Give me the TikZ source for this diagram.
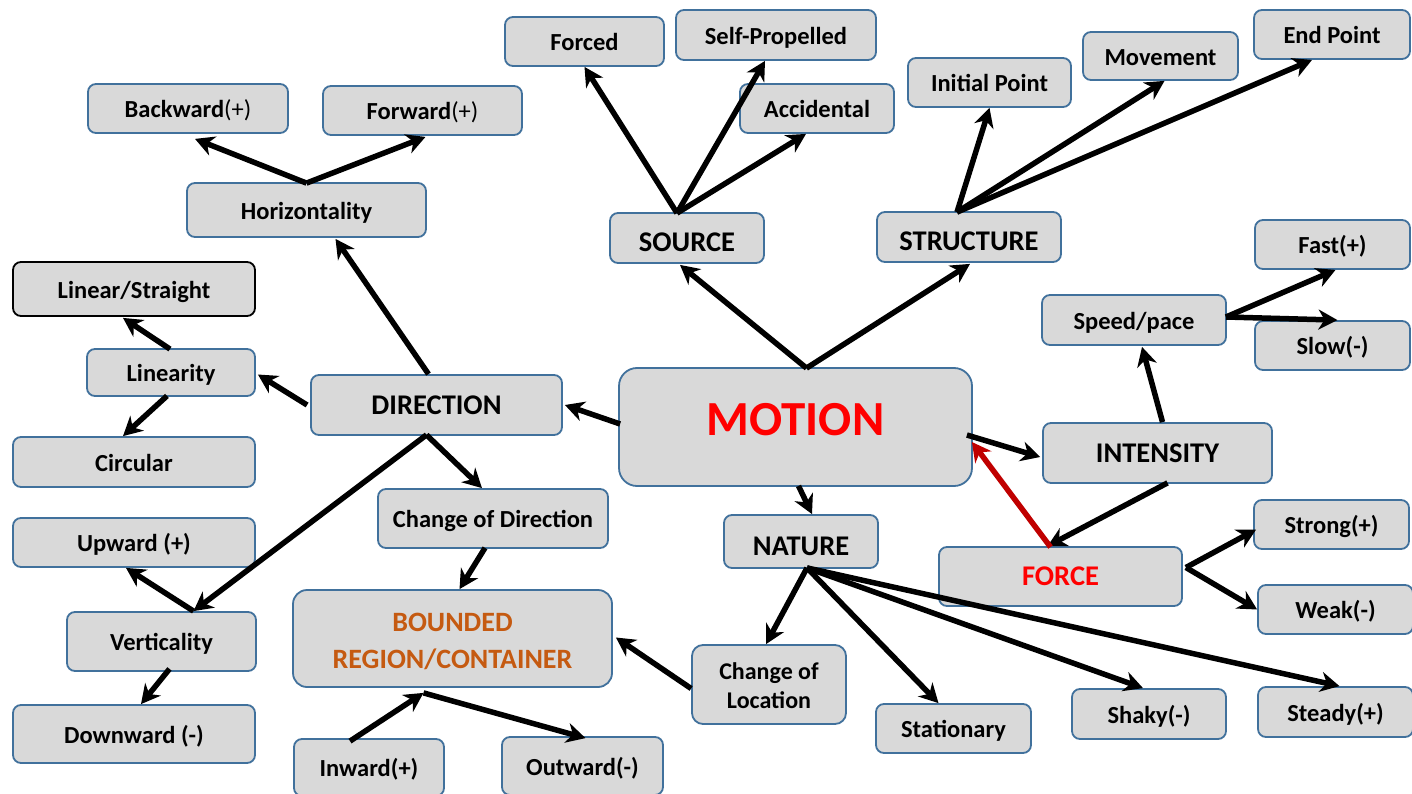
\documentclass[tikz,border=0pt]{standalone}
\usepackage{fontspec}
\setmainfont{Carlito}
\usetikzlibrary{arrows.meta,calc}
\definecolor{boxfill}{HTML}{D9D9D9}
\definecolor{boxline}{HTML}{41719C}
\definecolor{orangetxt}{HTML}{C55A11}
\definecolor{darkred}{HTML}{C00000}
\tikzset{
  boxbase/.style={draw=boxline, line width=1.8pt, fill=boxfill, rounded corners=8pt,
    inner sep=0pt, align=center, text=black},
  box/.style={boxbase, font=\fontsize{24.5}{30}\selectfont\bfseries,
    text height=24pt, text depth=5.2pt},
  multibox/.style={boxbase, font=\fontsize{24}{29}\selectfont\bfseries},
  head/.style={boxbase, font=\fontsize{28.5}{34}\selectfont\bfseries,
    text height=25pt, text depth=6.6pt},
  headlow/.style={head, text height=30pt, text depth=2.6pt},
  arr/.style={line width=5.5pt, draw=black, -{Stealth[length=19pt,width=20pt,inset=6pt]}},
  redarr/.style={arr, draw=darkred, color=darkred},
}
\begin{document}
\begin{tikzpicture}[x=1pt,y=-1pt]
\useasboundingbox[fill=white] (0,0) rectangle (1412,794);
% top row
\node[box, minimum width=159pt, minimum height=49pt] (forced) at (584.5,41.5) {Forced};
\node[box, minimum width=200pt, minimum height=50pt] (selfp) at (776,35) {Self-Propelled};
\node[box, minimum width=154pt, minimum height=49pt] (accid) at (817,108.5) {Accidental};
\node[box, minimum width=163pt, minimum height=49pt] (initp) at (989.5,82.5) {Initial Point};
\node[box, minimum width=155pt, minimum height=48pt] (movem) at (1160.5,56) {Movement};
\node[box, minimum width=156pt, minimum height=49pt] (endp) at (1332,34.5) {End Point};
\node[box, minimum width=200pt, minimum height=49pt] (backw) at (188,108.5) {Backward\mdseries(+)};
\node[box, minimum width=199pt, minimum height=49pt] (forw) at (422.5,110.5) {Forward\mdseries(+)};
\node[box, minimum width=239pt, minimum height=54pt] (horiz) at (306.5,210) {Horizontality};
\node[headlow, minimum width=154pt, minimum height=50pt] (source) at (687,238) {SOURCE};
\node[headlow, minimum width=184pt, minimum height=50pt] (struct) at (969,237) {STRUCTURE};
\node[box, minimum width=155pt, minimum height=49pt] (fast) at (1332.5,244.5) {Fast(+)};
\node[box, minimum width=184pt, minimum height=50pt] (speed) at (1134,320) {Speed/pace};
\node[box, minimum width=155pt, minimum height=49pt] (slow) at (1332.5,345.5) {Slow(-)};
% middle
\node[box, draw=black, minimum width=242pt, minimum height=54pt] (linst) at (134,289) {Linear/Straight};
\node[box, minimum width=168pt, minimum height=47pt] (linty) at (171,372.5) {Linearity};
\node[head, minimum width=251pt, minimum height=60pt] (direc) at (436.5,405) {DIRECTION};
\node[boxbase, rounded corners=18pt, minimum width=353pt, minimum height=118pt,
      font=\fontsize{49}{56}\selectfont\bfseries, text=red] (motion) at (795.5,427) {\raisebox{16pt}{MOTION}};
\node[head, minimum width=229pt, minimum height=60pt] (inten) at (1157.5,453) {INTENSITY};
\node[box, minimum width=242pt, minimum height=50pt] (circ) at (134,462) {Circular};
\node[box, minimum width=230pt, minimum height=59pt] (chdir) at (493,518.5) {Change of Direction};
\node[headlow, minimum width=154pt, minimum height=53pt] (nature) at (801,541.5) {NATURE};
\node[box, minimum width=155pt, minimum height=49pt] (strong) at (1331.5,524.5) {Strong(+)};
\node[head, minimum width=243pt, minimum height=59pt, text=red] (force) at (1060.5,576.5) {FORCE};
% lower
\node[box, minimum width=242pt, minimum height=49pt] (upw) at (134,542.5) {Upward (+)};
\node[box, minimum width=189pt, minimum height=59pt] (vert) at (161.5,641.5) {Verticality};
\node[boxbase, rounded corners=14pt, minimum width=319pt, minimum height=97pt,
      font=\fontsize{28}{37}\selectfont\bfseries, text=orangetxt] (bound) at (452.5,638.5)
      {\raisebox{-10.5pt}[0pt][0pt]{\begin{tabular}{@{}c@{}}BOUNDED\\REGION/CONTAINER\end{tabular}}};
\node[multibox, rounded corners=11pt, minimum width=154pt, minimum height=79pt] (chloc) at (769,684.5)
      {\raisebox{-9.7pt}[0pt][0pt]{\begin{tabular}{@{}c@{}}Change of\\Location\end{tabular}}};
\node[box, minimum width=155pt, minimum height=49pt] (weak) at (1335.5,609.5) {Weak(-)};
\node[box, minimum width=155pt, minimum height=49pt] (stat) at (953.5,728.5) {Stationary};
\node[box, minimum width=154pt, minimum height=50pt] (shaky) at (1149,714) {Shaky(-)};
\node[box, minimum width=155pt, minimum height=50pt] (steady) at (1335.5,712) {Steady(+)};
\node[box, minimum width=242pt, minimum height=58pt] (downw) at (134,734) {Downward (-)};
\node[box, minimum width=150pt, minimum height=57pt] (inw) at (369,767.5) {Inward(+)};
\node[box, minimum width=161pt, minimum height=58pt] (outw) at (582.5,766) {Outward(-)};

% hubs
\coordinate (srcHub) at ($(source.north)+(-10,1)$);
\coordinate (strHub) at ($(struct.north)+(-12,1)$);
\coordinate (horHub) at ($(horiz.north)+(0,1)$);
\coordinate (motHub) at ($(motion.north)+(11,1)$);
\coordinate (dirHub) at ($(direc.south)+(-10,-1)$);
\coordinate (verHub) at ($(vert.north)+(32,0)$);
\coordinate (natHub) at ($(nature.south)+(6,-1)$);
\coordinate (bndHub) at ($(bound.south)+(-29,5)$);
\coordinate (spdHub) at ($(speed.east)+(-1,-3)$);
\coordinate (frcHub) at ($(force.east)+(3,-9)$);

% arrows
\draw[arr] (srcHub) -- (forced.south);
\draw[arr] (srcHub) -- ($(selfp.south)+(-11,0)$);
\draw[arr] (srcHub) -- ($(accid.south)+(-11,0)$);
\draw[arr] (strHub) -- (initp.south);
\draw[arr] (strHub) -- ($(movem.south)+(4,0)$);
\draw[arr] (strHub) -- ($(endp.south)+(-20,0)$);
\draw[arr] (horHub) -- ($(backw.south)+(7,5)$);
\draw[arr] (horHub) -- ($(forw.south)+(3,1)$);
\draw[arr] ($(direc.north)+(-8,0)$) -- ($(horiz.south)+(29,1)$);
\draw[arr] ($(direc.west)+(-3,0)$) -- ($(linty.east)+(2,2)$);
\draw[arr] ($(linty.north)+(-1,1)$) -- ($(linst.south)+(-11,1)$);
\draw[arr] ($(linty.south)+(-4,-1)$) -- ($(circ.north)+(-11,0)$);
\draw[arr] ($(motion.west)+(2,-3)$) -- ($(direc.east)+(2,0)$);
\draw[arr] (motHub) -- ($(source.south)+(-7,1)$);
\draw[arr] (motHub) -- ($(struct.south)+(1,1)$);
\draw[arr] ($(motion.south)+(3,-1)$) -- ($(nature.north)+(11,0)$);
\draw[arr] ($(motion.east)+(-6,8)$) -- ($(inten.west)+(-2,4)$);
\draw[arr] ($(inten.north)+(5,0)$) -- ($(speed.south)+(8,1)$);
\draw[arr] ($(inten.south)+(10,-1)$) -- ($(force.north)+(-13,0)$);
\draw[redarr] ($(force.north)+(-10,1)$) -- ($(motion.east)+(-1,15)$);
\draw[arr] (spdHub) -- ($(fast.south)+(3,0)$);
\draw[arr] (spdHub) -- ($(slow.north)+(5,0)$);
\draw[arr] (frcHub) -- ($(strong.west)+(3,5)$);
\draw[arr] (frcHub) -- (weak.west);
\draw[arr] (dirHub) -- ($(chdir.north)+(-11,0)$);
\draw[arr] (dirHub) -- (verHub);
\draw[arr] (verHub) -- ($(upw.south)+(-8,0)$);
\draw[arr] ($(vert.south)+(8,-3)$) -- ($(downw.north)+(7,0)$);
\draw[arr] ($(chdir.south)+(-8,-1)$) -- ($(bound.north)+(7,0)$);
\draw[arr] ($(chloc.west)+(0,4)$) -- ($(bound.east)+(3,-1)$);
\draw[arr] ($(inw.north)+(-19,3)$) -- (bndHub);
\draw[arr] (bndHub) -- ($(outw.north)+(3,2)$);
\draw[arr] (natHub) -- ($(chloc.north)+(-3,0)$);
\draw[arr] (natHub) -- ($(stat.north)+(-15,0)$);
\draw[arr] (natHub) -- ($(shaky.north)+(-6,0)$);
\draw[arr] (natHub) -- ($(steady.north)+(4,0)$);
\end{tikzpicture}
\end{document}
